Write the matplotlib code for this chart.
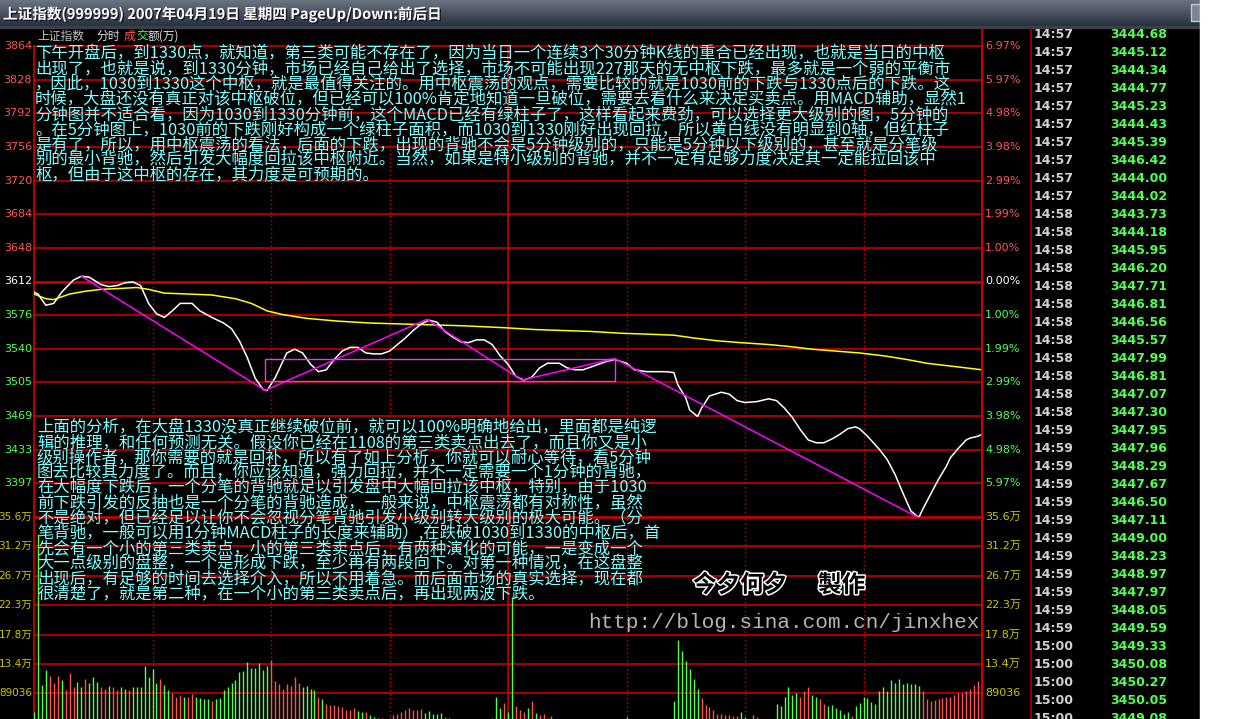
import numpy as np
import matplotlib
matplotlib.use('Agg')
import matplotlib.pyplot as plt
import matplotlib.patheffects as pe
from matplotlib.patches import Rectangle

W, H = 1246, 719
plt.rcParams['font.family'] = ['Noto Sans CJK SC', 'DejaVu Sans']

# ---------------- data ----------------
pre_close = 3612.40
pct_span = 0.0697

# white line: minute index (0 = 9:30, 120 = 11:30/13:00, 240 = 15:00) and index value
price_min = [0, 1, 3, 5, 7, 10, 12, 14, 17, 19, 21, 23, 25, 27, 29, 31, 33, 35, 37, 40,
             42, 45, 48, 50, 52, 54, 56, 58, 59, 61, 63, 64, 66, 68, 70, 72, 74, 76, 78, 80,
             82, 84, 86, 88, 90, 92, 94, 96, 98, 100, 102, 104, 106, 108, 110, 112, 114, 116, 118, 120,
             122, 124, 126, 128, 130, 133, 135, 137, 139, 141, 143, 145, 147, 150, 152, 155, 157, 160, 162, 163,
             165, 166, 168, 169, 171, 174, 176, 178, 180, 183, 186, 188, 190, 192, 194, 196, 198, 200, 202, 204,
             206, 208, 209, 211, 214, 216, 218, 220, 222, 224, 225, 227, 229, 231, 232, 234, 236, 237, 239, 240]
price_val = [3601, 3599, 3587, 3589, 3601, 3614, 3618, 3617, 3609, 3607, 3608, 3611, 3612, 3608, 3589, 3578, 3574, 3581, 3589, 3589,
             3581, 3574, 3568, 3562, 3549, 3531, 3509, 3497, 3496, 3509, 3527, 3536, 3540, 3536, 3524, 3516, 3518, 3529, 3538, 3542,
             3542, 3536, 3535, 3535, 3538, 3545, 3552, 3560, 3567, 3571, 3569, 3559, 3553, 3548, 3547, 3550, 3550, 3545, 3533, 3524,
             3511, 3507, 3510, 3520, 3525, 3525, 3520, 3518, 3518, 3521, 3524, 3527, 3529, 3525, 3518, 3516, 3516, 3516, 3515, 3502,
             3488, 3475, 3468, 3477, 3490, 3494, 3492, 3485, 3483, 3484, 3487, 3485, 3477, 3467, 3454, 3443, 3440, 3440, 3444, 3449,
             3455, 3457, 3455, 3447, 3433, 3422, 3406, 3386, 3367, 3360, 3369, 3385, 3401, 3415, 3424, 3434, 3443, 3445, 3447, 3449]

# yellow average-price line
avg_min = [0, 3, 5, 9, 13, 17, 22, 26, 29, 33, 39, 45, 51, 55, 59, 63, 69, 77, 85, 93, 101,
           109, 119, 127, 134, 141, 149, 156, 162, 167, 173, 179, 186, 191, 197, 203, 209, 215, 221, 226, 232, 240]
avg_val = [3599, 3594, 3593, 3599, 3602, 3604, 3605, 3606, 3604, 3600, 3599, 3598, 3594, 3589, 3581, 3577, 3573, 3570, 3568, 3567, 3566,
           3565, 3563, 3561, 3560, 3559, 3557, 3556, 3555, 3552, 3549, 3547, 3545, 3543, 3540, 3538, 3536, 3533, 3529, 3525, 3522, 3518]

# hand-drawn magenta strokes and the pivot box
pivot_min = [12, 58.5, 99.5, 123.5, 147, 223.6]
pivot_val = [3618, 3496, 3572, 3507, 3530, 3360.6]
box_min = [58.6, 147.2]
box_val = [3506.5, 3530]

# per-minute amount in thousands of 万, sign = bar colour (+ red, - green)
vol_k = [-60, -330, -101, -125, 115, 104, 115, -109, 94, 120,
         99, -106, -98, 111, -104, -113, -106, 99, 96, -100,
         99, 94, -98, -96, 94, -98, -99, -98, -131, -113,
         -126, -104, 111, -101, -94, 89, 84, 86, -84, 83,
         88, -83, -82, -80, -81, 78, -81, -82, -94, -99,
         -104, -109, -121, -122, -137, -128, -128, -135, -124, -130,
         139, 108, 103, 96, 103, 100, 113, 104, -99, -100,
         -96, -94, 84, -81, 73, 71, 71, 70, 68, 64,
         63, 66, -62, -61, 60, -56, -53, -52, 51, 50,
         52, 56, 58, 60, 64, 67, 63, 63, 65, -59,
         -62, -57, -58, -59, 53, -51, -45, 40, -38, 42,
         -40, 38, -36, 44, -42, -48, -51, -83, -67, 74,
         -60, -235, 70, 63, 60, -66, 78, -59, 56, 57,
         52, 54, 45, -42, 38, -40, 44, -36, 41, -39,
         42, -45, 40, -47, 43, -44, 48, -46, 45, -50,
         -53, -45, -44, -50, 46, -42, 44, -47, 43, -45,
         -48, -50, -78, -169, -153, -138, -126, -111, -96, 82,
         71, 68, 63, 58, 58, 56, 56, 55, 54, -61,
         -53, 50, 56, 53, 45, -44, 42, -46, -73, -70,
         -84, -98, -86, -89, 84, 93, 98, -86, -84, 81,
         73, -69, -71, -66, -63, -58, -60, 55, -69, -74,
         -83, -82, -76, -73, -92, -99, -93, -109, -105, -110,
         -103, -104, -103, -103, -100, 93, 81, 78, 79, 81,
         82, 84, 84, 87, 89, 90, 93, 96, 101, 108,
         112]
vol_step = 44518

price_labels = ['3864', '3828', '3792', '3756', '3720', '3684', '3648', '3612',
                '3576', '3540', '3505', '3469', '3433', '3397']
pct_labels = ['6.97%', '5.97%', '4.98%', '3.98%', '2.99%', '1.99%', '1.00%', '0.00%',
              '1.00%', '1.99%', '2.99%', '3.98%', '4.98%', '5.97%']
vol_labels = ['35.6万', '31.2万', '26.7万', '22.3万', '17.8万', '13.4万', '89036']

tick_times = ['14:57'] * 10 + ['14:58'] * 12 + ['14:59'] * 12 + ['15:00'] * 5
tick_prices = ['3444.68', '3445.12', '3444.34', '3444.77', '3445.23', '3444.43', '3445.39', '3446.42',
               '3444.00', '3444.02', '3443.73', '3444.18', '3445.95', '3446.20', '3447.71', '3446.81',
               '3446.56', '3445.57', '3447.99', '3446.81', '3447.07', '3447.30', '3447.95', '3447.96',
               '3448.29', '3447.67', '3446.50', '3447.11', '3449.00', '3448.23', '3448.97', '3447.97',
               '3448.05', '3449.59', '3449.33', '3450.08', '3450.27', '3450.05', '3449.08']

title = '上证指数(999999) 2007年04月19日 星期四 PageUp/Down:前后日'
note_top = [
    '下午开盘后，到1330点，就知道，第三类可能不存在了，因为当日一个连续3个30分钟K线的重合已经出现，也就是当日的中枢',
    '出现了，也就是说，到1330分钟，市场已经自己给出了选择，市场不可能出现227那天的无中枢下跌，最多就是一个弱的平衡市',
    '，因此，1030到1330这个中枢，就是最值得关注的。用中枢震荡的观点，需要比较的就是1030前的下跌与1330点后的下跌。这',
    '时候，大盘还没有真正对该中枢破位，但已经可以100%肯定地知道一旦破位，需要去看什么来决定买卖点。用MACD辅助，显然1',
    '分钟图并不适合看，因为1030到1330分钟前，这个MACD已经有绿柱子了，这样看起来费劲，可以选择更大级别的图，5分钟的',
    '。在5分钟图上，1030前的下跌刚好构成一个绿柱子面积，而1030到1330刚好出现回拉，所以黄白线没有明显到0轴，但红柱子',
    '是有了，所以，用中枢震荡的看法，后面的下跌，出现的背驰不会是5分钟级别的，只能是5分钟以下级别的，甚至就是分笔级',
    '别的最小背驰，然后引发大幅度回拉该中枢附近。当然，如果是特小级别的背驰，并不一定有足够力度决定其一定能拉回该中',
    '枢，但由于这中枢的存在，其力度是可预期的。',
]
note_bottom = [
    '上面的分析，在大盘1330没真正继续破位前，就可以100%明确地给出，里面都是纯逻',
    '辑的推理，和任何预测无关。假设你已经在1108的第三类卖点出去了，而且你又是小',
    '级别操作者，那你需要的就是回补，所以有了如上分析，你就可以耐心等待，看5分钟',
    '图去比较其力度了。而且，你应该知道，强力回拉，并不一定需要一个1分钟的背驰，',
    '在大幅度下跌后，一个分笔的背驰就足以引发盘中大幅回拉该中枢，特别，由于1030',
    '前下跌引发的反抽也是一个分笔的背驰造成，一般来说，中枢震荡都有对称性，虽然',
    '不是绝对，但已经足以让你不会忽视分笔背驰引发小级别转大级别的极大可能。（分',
    '笔背驰，一般可以用1分钟MACD柱子的长度来辅助）,在跌破1030到1330的中枢后，首',
    '先会有一个小的第三类卖点，小的第三类卖点后，有两种演化的可能，一是变成一个',
    '大一点级别的盘整，一个是形成下跌，至少再有两段向下。对第一种情况，在这盘整',
    '出现后，有足够的时间去选择介入，所以不用着急。而后面市场的真实选择，现在都',
    '很清楚了，就是第二种，在一个小的第三类卖点后，再出现两波下跌。',
]

# ---------------- colours ----------------
RED = '#d40000'
UP = '#ff5454'
DOWN = '#54ff54'
YEL = '#c8c800'
CYAN = '#80ffff'

fig = plt.figure(figsize=(W / 100, H / 100), dpi=100, facecolor='black')

# pixel layout
x0, x1 = 34, 982
y_top, y_mid, y_vbot = 46, 517, 752

lo, hi = pre_close * (1 - pct_span), pre_close * (1 + pct_span)
ax_p = fig.add_axes([x0 / W, 1 - y_mid / H, (x1 - x0) / W, (y_mid - y_top) / H])
ax_v = fig.add_axes([x0 / W, 1 - y_vbot / H, (x1 - x0) / W, (y_vbot - y_mid) / H])
for ax in (ax_p, ax_v):
    ax.set_facecolor('black')
    ax.set_xlim(0, 240)
    ax.axis('off')
ax_p.set_ylim(lo, hi)
ax_v.set_ylim(0, 8 * vol_step)

levels = np.linspace(hi, lo, 15)
for i, lv in enumerate(levels):
    thick = (i == 7) or (i == 14)
    ax_p.axhline(lv, color=RED, lw=1.8 if thick else 1.1, clip_on=False, zorder=1)
for k in range(1, 8):
    ax_v.axhline(k * vol_step, color=RED, lw=1.1, zorder=1)
for ax in (ax_p, ax_v):
    for m in range(30, 240, 30):
        if m == 120:
            ax.axvline(m, color=RED, lw=1.1, zorder=1)
        else:
            ax.axvline(m, color=RED, lw=1.0, ls=(0, (1, 2)), zorder=1)
    ax.axvline(0, color=RED, lw=1.2, clip_on=False, zorder=1)
    ax.axvline(240, color=RED, lw=1.2, clip_on=False, zorder=1)

# volume bars
vol = np.array(vol_k) * 1000
mins = np.arange(len(vol))
ax_v.vlines(mins, 0, np.abs(vol), colors=[UP if v > 0 else DOWN for v in vol], lw=1.0, zorder=2)

# price, average, annotations
ax_p.plot(avg_min, avg_val, color='#ffff00', lw=1.1, zorder=3)
ax_p.plot(price_min, price_val, color='white', lw=1.1, zorder=4)
ax_p.plot(pivot_min, pivot_val, color='#ff00ff', lw=1.1, zorder=5, clip_on=False)
ax_p.add_patch(Rectangle((box_min[0], box_val[0]), box_min[1] - box_min[0], box_val[1] - box_val[0],
                         fill=False, edgecolor='#e040e0', lw=1.0, zorder=5))

# axis labels
ytr = ax_p.get_yaxis_transform()
for i, lv in enumerate(levels[:14]):
    c = UP if i < 7 else ('white' if i == 7 else DOWN)
    ax_p.text(-2 / 948, lv, price_labels[i], transform=ytr, ha='right', va='center',
              color=c, fontsize=8, family='DejaVu Sans', clip_on=False)
    ax_p.text(1 + 3 / 948, lv, pct_labels[i], transform=ytr, ha='left', va='center',
              color=c, fontsize=8, family='DejaVu Sans', clip_on=False)
vtr = ax_v.get_yaxis_transform()
for k, s in enumerate(vol_labels):
    lv = (8 - k) * vol_step
    ax_v.text(-2 / 948, lv, s, transform=vtr, ha='right', va='center', color=YEL,
              fontsize=7.5, family=['DejaVu Sans', 'Noto Sans CJK SC'], clip_on=False)
    ax_v.text(1 + 3 / 948, lv, s, transform=vtr, ha='left', va='center', color=YEL,
              fontsize=8, family=['DejaVu Sans', 'Noto Sans CJK SC'], clip_on=False)

# ---------------- overlay in pixel coordinates ----------------
ax_o = fig.add_axes([0, 0, 1, 1], zorder=10)
ax_o.axis('off')
ax_o.patch.set_visible(False)

# title bar
grad = np.linspace(0, 1, 26)[:, None, None]
c_top = np.array([0.42, 0.45, 0.50])
c_bot = np.array([0.16, 0.19, 0.25])
bar = c_top * (1 - grad) + c_bot * grad
ax_o.imshow(bar, extent=(0, 1200, 26, 0), aspect='auto', zorder=1)
ax_o.set_xlim(0, W)
ax_o.set_ylim(H, 0)
ax_o.add_patch(Rectangle((0, 26), 1200, 2, color='#3a4048', zorder=1))
ax_o.add_patch(Rectangle((1191, 4), 14, 17, facecolor='#7c8490', edgecolor='#c0c6ce', lw=1, zorder=2))
ax_o.text(3, 14, title, color='white', fontsize=10.5, fontweight='bold', va='center', ha='left', zorder=3,
          path_effects=[pe.withSimplePatchShadow(offset=(1, -1), shadow_rgbFace='#101828', alpha=1)])
ax_o.add_patch(Rectangle((1200, 0), W - 1200, H, color='white', zorder=4))

# header of the chart
hdr = [('上证指数', 37, '#c0c0c0'), ('分时', 96, '#e0e0e0'), ('成', 124, UP), ('交', 136, DOWN), ('额(万)', 148, '#e0e0e0')]
for s, x, c in hdr:
    ax_o.text(x, 36, s, color=c, fontsize=8.5, va='center', ha='left', zorder=6)

# border lines outside the axes
ax_o.plot([x1, x1], [28, H], color=RED, lw=1.2, zorder=2)
ax_o.plot([1031, 1031], [28, H], color='#a00000', lw=1.2, zorder=2)

# tick list on the right
for i, (t, p) in enumerate(zip(tick_times, tick_prices)):
    y = 35 + 18 * i
    ax_o.text(1034, y, t, color='#d2d2d2', fontsize=9, fontweight='bold', family='DejaVu Sans', va='center')
    ax_o.text(1110, y, p, color='#50ff50', fontsize=9, fontweight='bold', family='DejaVu Sans', va='center')

# the blogger's notes
for i, s in enumerate(note_top):
    ax_o.text(35, 54 + 15.1 * i, s, color=CYAN, fontsize=11.8, va='center', ha='left', zorder=6)
for i, s in enumerate(note_bottom):
    ax_o.text(37, 428 + 15.05 * i, s, color=CYAN, fontsize=11.8, va='center', ha='left', zorder=6)

# signature
sig = [pe.withStroke(linewidth=2.2, foreground='white')]
ax_o.text(693, 585, '今夕何夕', color='black', fontsize=17, fontweight='bold', va='center', ha='left',
          path_effects=sig, zorder=6)
ax_o.text(818, 585, '製作', color='black', fontsize=17, fontweight='bold', va='center', ha='left',
          path_effects=sig, zorder=6)

# blog address
ax_o.text(588, 628, 'http://blog.sina.com.cn/jinxhex', color='#b4b4b4', fontsize=15.1,
          family='Liberation Mono', va='baseline', ha='left', zorder=6)

fig.savefig('out.png', dpi=100, facecolor='black')
